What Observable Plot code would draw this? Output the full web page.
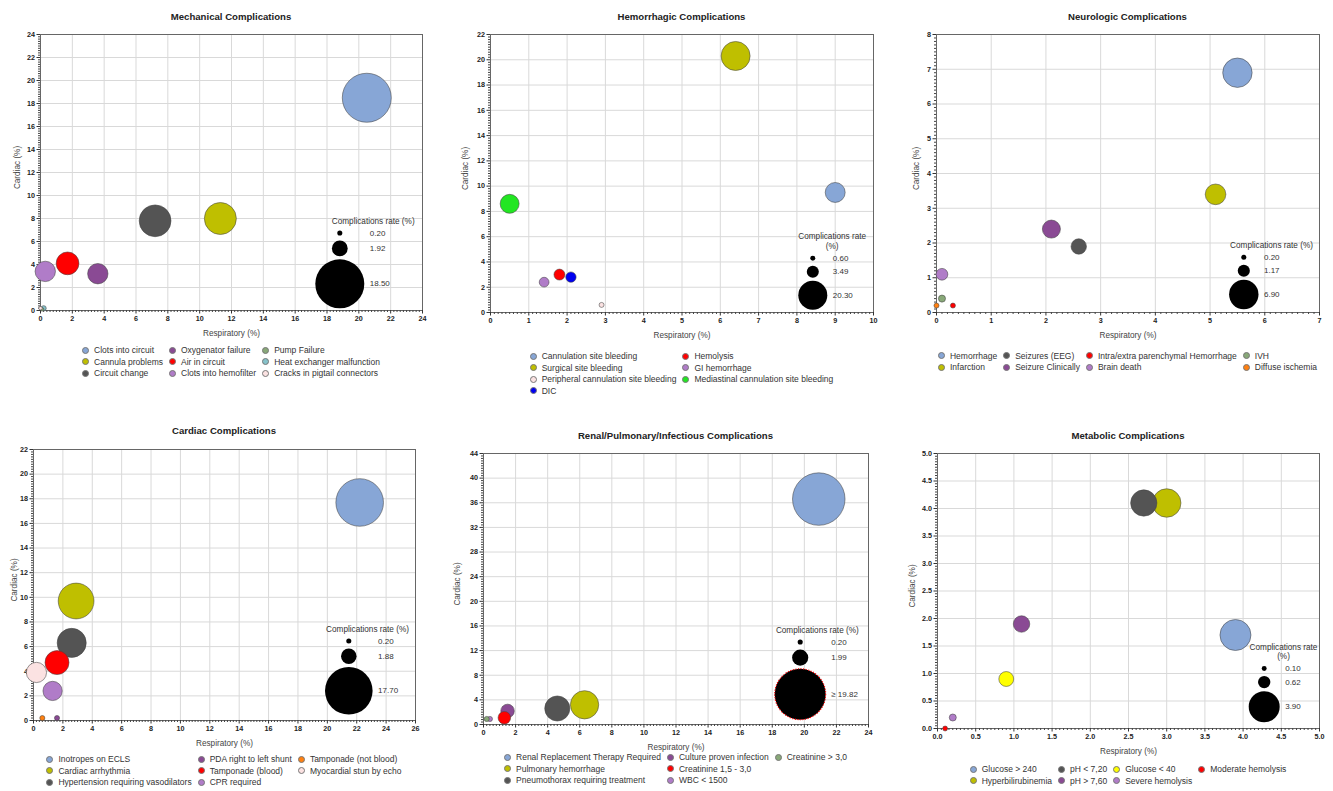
<!DOCTYPE html>
<html>
<head>
<meta charset="utf-8">
<script src="https://cdn.jsdelivr.net/npm/d3@7"></script>
<script src="https://cdn.jsdelivr.net/npm/@observablehq/plot@0.6"></script>
<style>
  body { margin: 0; background: #fff; font-family: "Liberation Sans", Arial, sans-serif; }
  #page { position: relative; width: 1333px; height: 791px; overflow: hidden; background: #fff; }
  .title { position: absolute; font-weight: bold; font-size: 9.6px; color: #222; text-align: center; white-space: nowrap; line-height: 12px; }
  .plotbox { position: absolute; }
  .plotbox svg { overflow: visible; }
  .legend { position: absolute; display: grid; grid-auto-flow: column; grid-auto-columns: max-content; column-gap: 6px; justify-content: center; font-size: 8.5px; color: #333; }
  .legend .item { display: flex; align-items: center; white-space: nowrap; }
  .legend .sw { width: 7px; height: 7px; border-radius: 50%; box-sizing: border-box; border: 0.6px solid #777; margin-right: 5px; flex: none; }
</style>
</head>
<body>
<div id="page"></div>
<script>
// ---------------- DATA ----------------
// Mechanical
const mechCategories = ["Clots into circuit","Cannula problems","Circuit change","Oxygenator failure","Air in circuit","Clots into hemofilter","Pump Failure","Heat exchanger malfunction","Cracks in pigtail connectors"];
const mechRespiratory = [20.5, 11.3, 7.2, 3.6, 1.7, 0.3, 0.1, 0.2, 0.0];
const mechCardiac     = [18.5, 8.0, 7.8, 3.2, 4.1, 3.4, 0.1, 0.2, 0.2];
const mechRate        = [18.5, 7.9, 7.8, 3.2, 4.0, 3.2, 0.1, 0.2, 0.1];
const mechRateKey = [0.20, 1.92, 18.50];
const mechKeyLabels = ["0.20", "1.92", "18.50"];
const mechXTicks = [0,2,4,6,8,10,12,14,16,18,20,22,24];
const mechYTicks = [0,2,4,6,8,10,12,14,16,18,20,22,24];

// Hemorrhagic
const hemoCategories = ["Cannulation site bleeding","Surgical site bleeding","Peripheral cannulation site bleeding","DIC","Hemolysis","GI hemorrhage","Mediastinal cannulation site bleeding"];
const hemoRespiratory = [9.0, 6.4, 2.9, 2.1, 1.8, 1.4, 0.5];
const hemoCardiac     = [9.5, 20.3, 0.6, 2.8, 3.0, 2.4, 8.6];
const hemoRate        = [9.6, 20.3, 0.6, 2.6, 2.9, 2.3, 8.7];
const hemoRateKey = [0.60, 3.49, 20.30];
const hemoKeyLabels = ["0.60", "3.49", "20.30"];
const hemoXTicks = [0,1,2,3,4,5,6,7,8,9,10];
const hemoYTicks = [0,2,4,6,8,10,12,14,16,18,20,22];

// Neurologic
const neuroCategories = ["Hemorrhage","Infarction","Seizures (EEG)","Seizure Clinically","Intra/extra parenchymal Hemorrhage","Brain death","IVH","Diffuse ischemia"];
const neuroRespiratory = [5.5, 5.1, 2.6, 2.1, 0.3, 0.1, 0.1, 0.0];
const neuroCardiac     = [6.9, 3.4, 1.9, 2.4, 0.2, 1.1, 0.4, 0.2];
const neuroRate        = [6.9, 3.4, 1.9, 2.6, 0.2, 1.1, 0.4, 0.2];
const neuroRateKey = [0.20, 1.17, 6.90];
const neuroKeyLabels = ["0.20", "1.17", "6.90"];
const neuroXTicks = [0,1,2,3,4,5,6,7];
const neuroYTicks = [0,1,2,3,4,5,6,7,8];

// Cardiac
const cardCategories = ["Inotropes on ECLS","Cardiac arrhythmia","Hypertension requiring vasodilators","PDA right to left shunt","Tamponade (blood)","CPR required","Tamponade (not blood)","Myocardial stun by echo"];
const cardRespiratory = [22.2, 2.9, 2.6, 1.6, 1.6, 1.3, 0.6, 0.2];
const cardCardiac     = [17.7, 9.7, 6.3, 0.2, 4.7, 2.4, 0.2, 3.9];
const cardRate        = [17.7, 10.0, 6.6, 0.2, 4.5, 2.9, 0.2, 3.2];
const cardRateKey = [0.20, 1.88, 17.70];
const cardKeyLabels = ["0.20", "1.88", "17.70"];
const cardXTicks = [0,2,4,6,8,10,12,14,16,18,20,22,24,26];
const cardYTicks = [0,2,4,6,8,10,12,14,16,18,20,22];

// Renal / Pulmonary / Infectious
const renalCategories = ["Renal Replacement Therapy Required","Pulmonary hemorrhage","Pneumothorax requiring treatment","Culture proven infection","Creatinine 1,5 - 3,0","WBC < 1500","Creatinine > 3,0"];
const renalRespiratory = [20.9, 6.3, 4.6, 1.5, 1.3, 0.4, 0.2];
const renalCardiac     = [36.6, 3.2, 2.6, 2.2, 1.1, 0.9, 0.9];
const renalRate        = [21.0, 6.1, 4.8, 1.4, 1.2, 0.2, 0.2];
const renalRateKey = [0.20, 1.99, 19.82];
const renalKeyLabels = ["0.20", "1.99", "\u2265 19.82"];
const renalXTicks = [0,2,4,6,8,10,12,14,16,18,20,22,24];
const renalYTicks = [0,4,8,12,16,20,24,28,32,36,40,44];

// Metabolic
const metaCategories = ["Glucose > 240","Hyperbilirubinemia","pH < 7,20","pH > 7,60","Glucose < 40","Severe hemolysis","Moderate hemolysis"];
const metaRespiratory = [3.9, 3.0, 2.7, 1.1, 0.9, 0.2, 0.1];
const metaCardiac     = [1.7, 4.1, 4.1, 1.9, 0.9, 0.2, 0.0];
const metaRate        = [3.9, 3.3, 2.8, 1.1, 0.9, 0.2, 0.1];
const metaRateKey = [0.10, 0.62, 3.90];
const metaKeyLabels = ["0.10", "0.62", "3.90"];
const metaXTicks = [0,0.5,1,1.5,2,2.5,3,3.5,4,4.5,5];
const metaYTicks = [0,0.5,1,1.5,2,2.5,3,3.5,4,4.5,5];

// ---------------- STYLE ----------------
const C = {
  blue: "#87a6d6", olive: "#bfbf00", dgray: "#545454", purple: "#8a4a94", red: "#ff0000",
  lpurple: "#b07cc8", ggreen: "#88a878", teal: "#86c2ca", pink: "#fbe2e2", green: "#22e622",
  dblue: "#0000f0", orange: "#ff8010", yellow: "#ffff00"
};

const panels = [
  { title: "Mechanical Complications", cats: mechCategories, resp: mechRespiratory, card: mechCardiac, rate: mechRate,
    key: mechRateKey, keyLabels: mechKeyLabels, xTicks: mechXTicks, yTicks: mechYTicks, fmt: d3.format("d"),
    keyTitle: "Complications rate (%)",
    colors: [C.blue, C.olive, C.dgray, C.purple, C.red, C.lpurple, C.ggreen, C.teal, C.pink] },
  { title: "Hemorrhagic Complications", cats: hemoCategories, resp: hemoRespiratory, card: hemoCardiac, rate: hemoRate,
    key: hemoRateKey, keyLabels: hemoKeyLabels, xTicks: hemoXTicks, yTicks: hemoYTicks, fmt: d3.format("d"),
    keyTitle: "Complications rate\n(%)",
    colors: [C.blue, C.olive, C.pink, C.dblue, C.red, C.lpurple, C.green] },
  { title: "Neurologic Complications", cats: neuroCategories, resp: neuroRespiratory, card: neuroCardiac, rate: neuroRate,
    key: neuroRateKey, keyLabels: neuroKeyLabels, xTicks: neuroXTicks, yTicks: neuroYTicks, fmt: d3.format("d"),
    keyTitle: "Complications rate (%)",
    colors: [C.blue, C.olive, C.dgray, C.purple, C.red, C.lpurple, C.ggreen, C.orange] },
  { title: "Cardiac Complications", cats: cardCategories, resp: cardRespiratory, card: cardCardiac, rate: cardRate,
    key: cardRateKey, keyLabels: cardKeyLabels, xTicks: cardXTicks, yTicks: cardYTicks, fmt: d3.format("d"),
    keyTitle: "Complications rate (%)",
    colors: [C.blue, C.olive, C.dgray, C.purple, C.red, C.lpurple, C.orange, C.pink] },
  { title: "Renal/Pulmonary/Infectious Complications", cats: renalCategories, resp: renalRespiratory, card: renalCardiac, rate: renalRate,
    key: renalRateKey, keyLabels: renalKeyLabels, xTicks: renalXTicks, yTicks: renalYTicks, fmt: d3.format("d"),
    keyTitle: "Complications rate (%)", capped: true,
    colors: [C.blue, C.olive, C.dgray, C.purple, C.red, C.lpurple, C.ggreen] },
  { title: "Metabolic Complications", cats: metaCategories, resp: metaRespiratory, card: metaCardiac, rate: metaRate,
    key: metaRateKey, keyLabels: metaKeyLabels, xTicks: metaXTicks, yTicks: metaYTicks, fmt: d3.format(".1f"),
    keyTitle: "Complications rate\n(%)",
    colors: [C.blue, C.olive, C.dgray, C.purple, C.yellow, C.lpurple, C.red] }
];

// layout (page pixels)
const layouts = [
  { px: 0,   w: 444, fl: 40,  fr: 422,  ft: 34,  fb: 310, titleY: 16.7, legY: 350.3, rows: 3, rmax: 24.5, keyX: -82.7, keyDy: -26.7, keyTitleDx: -49.3, ylabDx: -23.3 },
  { px: 444, w: 444, fl: 490, fr: 873,  ft: 34,  fb: 312, titleY: 16.7, legY: 356,   rows: 4, rmax: 14.5, keyX: -60.7, keyDy: -17.3, keyTitleDx: -41.3, ylabDx: -25.3 },
  { px: 888, w: 445, fl: 936, fr: 1319, ft: 34,  fb: 312, titleY: 16.7, legY: 355.7, rows: 2, rmax: 14.7, keyX: -75.7, keyDy: -18,   keyTitleDx: -48,   ylabDx: -19.7 },
  { px: 0,   w: 444, fl: 33,  fr: 415,  ft: 449, fb: 720, titleY: 431.3, legY: 759.3, rows: 3, rmax: 23.8, keyX: -66.7, keyDy: -29.7, keyTitleDx: -48,   ylabDx: -19.3 },
  { px: 444, w: 444, fl: 483, fr: 868,  ft: 453, fb: 724, titleY: 436.3, legY: 757,   rows: 3, rmax: 25.5, keyX: -68.3, keyDy: -30.3, keyTitleDx: -51.2, ylabDx: -26.3 },
  { px: 888, w: 445, fl: 937, fr: 1319, ft: 453, fb: 728, titleY: 436,  legY: 769,   rows: 2, rmax: 15.5, keyX: -55.3, keyDy: -21.7, keyTitleDx: -36,   ylabDx: -25 }
];

const FONT = "Liberation Sans, Arial, sans-serif";
const page = document.getElementById("page");

function minorTicks(ticks, n) {
  const out = [];
  for (let i = 0; i < ticks.length - 1; i++) {
    const step = (ticks[i + 1] - ticks[i]) / n;
    for (let k = 1; k < n; k++) out.push(ticks[i] + k * step);
  }
  return out;
}

panels.forEach((p, idx) => {
  const L = layouts[idx];
  const data = p.cats.map((c, i) => ({ name: c, x: p.resp[i], y: p.card[i], r: p.rate[i] }));
  const keyMax = p.key[2];
  const rpx = v => L.rmax * Math.sqrt(v / keyMax);
  const rb = rpx(p.key[2]), rm = rpx(p.key[1]), rs = rpx(p.key[0]);
  const cyB = L.keyDy, cyM = cyB - rb - 3 - rm, cyS = cyM - rm - 5 - rs;
  const cys = [cyS, cyM, cyB];

  const mTop = 8, mBottom = 34;
  const H = mTop + (L.fb - L.ft) + mBottom;
  const xDom = [p.xTicks[0], p.xTicks[p.xTicks.length - 1]];
  const yDom = [p.yTicks[0], p.yTicks[p.yTicks.length - 1]];

  const keyMarks = [];
  p.key.forEach((v, i) => {
    keyMarks.push(Plot.dot([v], {
      r: d => d, fill: "black", frameAnchor: "bottom-right", dx: L.keyX, dy: cys[i],
      stroke: (p.capped && i === 2) ? "#ff0000" : "none", strokeWidth: 1.1, strokeDasharray: "1.2,1.4"
    }));
    keyMarks.push(Plot.text([p.keyLabels[i]], {
      text: d => d, frameAnchor: "bottom-right", dx: L.keyX + rb + 5.5, dy: cys[i],
      textAnchor: "start", lineAnchor: "middle", fontSize: 8, fill: "#333"
    }));
  });
  keyMarks.push(Plot.text([p.keyTitle], {
    text: d => d, frameAnchor: "bottom-right", dx: L.keyTitleDx, dy: cyS - 9,
    textAnchor: "middle", lineAnchor: "bottom", lineHeight: 1.2, fontSize: 8.2, fill: "#333"
  }));

  const chart = Plot.plot({
    width: L.w, height: H,
    marginLeft: L.fl - L.px, marginRight: L.px + L.w - L.fr, marginTop: mTop, marginBottom: mBottom,
    style: { fontFamily: FONT, background: "transparent", overflow: "visible" },
    x: { domain: xDom, label: null },
    y: { domain: yDom, label: null },
    r: { type: "sqrt", domain: [0, keyMax], range: [0, L.rmax] },
    color: { type: "ordinal", domain: p.cats, range: p.colors },
    marks: [
      Plot.gridX(p.xTicks, { stroke: "#d9d9d9", strokeOpacity: 1, strokeWidth: 1 }),
      Plot.gridY(p.yTicks, { stroke: "#d9d9d9", strokeOpacity: 1, strokeWidth: 1 }),
      Plot.frame({ stroke: "#666", strokeWidth: 1 }),
      Plot.axisX(minorTicks(p.xTicks, 10), { tickSize: 2, tickFormat: () => "", label: null, stroke: "#444" }),
      Plot.axisY(minorTicks(p.yTicks, 10), { tickSize: 2, tickFormat: () => "", label: null, stroke: "#444" }),
      Plot.axisX(p.xTicks, { tickSize: 3.5, tickPadding: 2, fontSize: 7.2, fontWeight: "bold", fill: "#222", stroke: "#333", label: null, tickFormat: p.fmt }),
      Plot.axisY(p.yTicks, { tickSize: 3.5, tickPadding: 2, fontSize: 7.2, fontWeight: "bold", fill: "#222", stroke: "#333", label: null, tickFormat: p.fmt }),
      Plot.text(["Respiratory (%)"], { text: d => d, frameAnchor: "bottom", dy: 22.5, lineAnchor: "middle", fontSize: 8.2, fill: "#444" }),
      Plot.text(["Cardiac (%)"], { text: d => d, frameAnchor: "left", dx: L.ylabDx, dy: -5, rotate: -90, textAnchor: "middle", lineAnchor: "middle", fontSize: 8.2, fill: "#444" }),
      Plot.dot(data, { x: "x", y: "y", r: "r", fill: "name", stroke: "#444", strokeOpacity: 0.8, strokeWidth: 0.7 }),
      ...keyMarks
    ]
  });

  const box = document.createElement("div");
  box.className = "plotbox";
  box.style.left = L.px + "px";
  box.style.top = (L.ft - mTop) + "px";
  box.appendChild(chart);
  page.appendChild(box);

  const t = document.createElement("div");
  t.className = "title";
  t.textContent = p.title;
  t.style.left = L.fl + "px";
  t.style.width = (L.fr - L.fl) + "px";
  t.style.top = (L.titleY - 6) + "px";
  page.appendChild(t);

  const lg = document.createElement("div");
  lg.className = "legend";
  const rowH = 11.5;
  lg.style.left = L.fl + "px";
  lg.style.width = (L.fr - L.fl) + "px";
  lg.style.top = (L.legY - rowH / 2) + "px";
  lg.style.gridTemplateRows = `repeat(${L.rows}, ${rowH}px)`;
  p.cats.forEach((c, i) => {
    const it = document.createElement("div");
    it.className = "item";
    const sw = document.createElement("span");
    sw.className = "sw";
    sw.style.background = p.colors[i];
    const tx = document.createElement("span");
    tx.textContent = c;
    it.appendChild(sw);
    it.appendChild(tx);
    lg.appendChild(it);
  });
  page.appendChild(lg);
});
</script>
</body>
</html>
